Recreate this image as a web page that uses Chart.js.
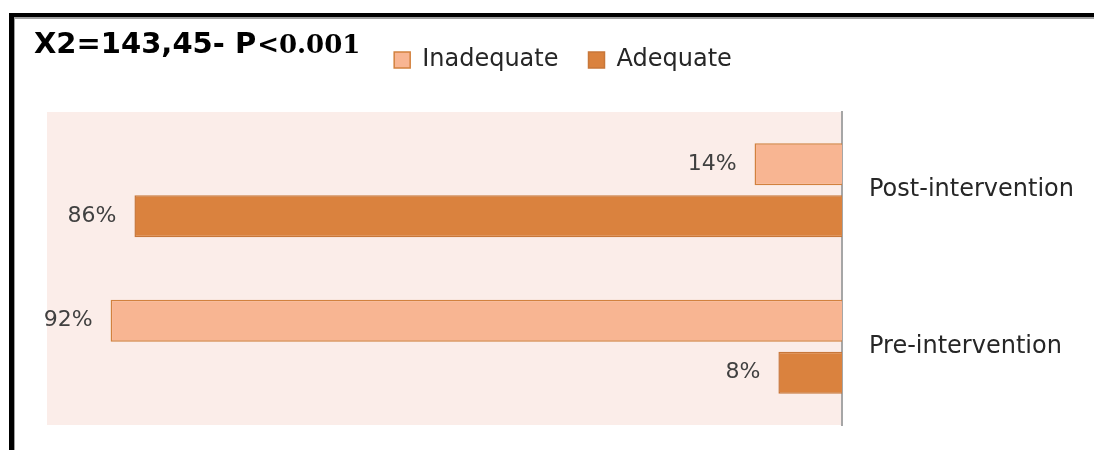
<!DOCTYPE html>
<html>
<head>
<meta charset="utf-8">
<script src="https://cdn.jsdelivr.net/npm/chart.js@4"></script>
<style>
  html, body { margin: 0; padding: 0; background: #fff; }
  #wrap { position: relative; width: 1094px; height: 450px; overflow: hidden; }
  .frame { position: absolute; left: 9px; top: 13px; right: 0; bottom: 0; border-top: 4px solid #000; border-left: 5px solid #000; }
  .frame-in { position: absolute; left: 14px; top: 17px; right: 0; bottom: 0; border-top: 2px solid #a0a0a0; border-left: 1px solid #a0a0a0; }
  canvas { position: absolute; left: 0; top: 0; }
</style>
</head>
<body>
<div id="wrap">
  <div class="frame"></div>
  <div class="frame-in"></div>
  <canvas id="chart" width="1094" height="450"></canvas>
</div>
<script>
const groups = ['Post-intervention', 'Pre-intervention'];
// bar lengths as drawn in the picture (%)
const inadequate = [11, 92];
const adequate = [89, 8];
// labels printed next to the bars
const inadequateText = ['14%', '92%'];
const adequateText = ['86%', '8%'];
const titleMain = 'X2=143,45- P';
const titleTail = '<0.001';

// pink plot area
const plotBg = {
  id: 'plotBg',
  beforeDraw(chart) {
    const { ctx, chartArea: a } = chart;
    ctx.save();
    ctx.fillStyle = '#fbede9';
    ctx.fillRect(a.left, a.top, a.right - a.left, a.bottom - a.top);
    ctx.restore();
  }
};

// value text to the left of each bar
const barText = {
  id: 'barText',
  afterDatasetsDraw(chart) {
    const ctx = chart.ctx;
    ctx.save();
    ctx.font = '22px "DejaVu Sans"';
    ctx.fillStyle = '#404040';
    ctx.textAlign = 'right';
    ctx.textBaseline = 'middle';
    chart.data.datasets.forEach((ds, i) => {
      chart.getDatasetMeta(i).data.forEach((bar, j) => {
        ctx.fillText(ds.valueText[j], bar.x - 18, bar.y);
      });
    });
    ctx.restore();
  }
};

// title with mixed fonts
const titleText = {
  id: 'titleText',
  afterDraw(chart) {
    const ctx = chart.ctx;
    ctx.save();
    ctx.fillStyle = '#000';
    ctx.textBaseline = 'alphabetic';
    ctx.font = 'bold 29px "DejaVu Sans"';
    ctx.fillText(titleMain, 34, 53);
    const w = ctx.measureText(titleMain).width;
    ctx.font = 'bold 26px "DejaVu Serif"';
    ctx.fillText(titleTail, 34 + w + 1, 53);
    ctx.restore();
  }
};

// extra space under the legend
const legendGap = {
  id: 'legendGap',
  afterInit(chart) {
    const fit = chart.legend.fit;
    chart.legend.fit = function () {
      fit.bind(chart.legend)();
      this.height += 30;
    };
  }
};

new Chart(document.getElementById('chart'), {
  type: 'bar',
  data: {
    labels: groups,
    datasets: [
      {
        label: 'Inadequate',
        data: inadequate,
        valueText: inadequateText,
        backgroundColor: '#f8b592',
        borderColor: '#d2813e',
        borderWidth: 1.5,
        categoryPercentage: 0.665,
        barPercentage: 0.81
      },
      {
        label: 'Adequate',
        data: adequate,
        valueText: adequateText,
        backgroundColor: '#da823e',
        borderColor: '#c8773a',
        borderWidth: 1.5,
        categoryPercentage: 0.665,
        barPercentage: 0.81
      }
    ]
  },
  options: {
    indexAxis: 'y',
    responsive: false,
    animation: false,
    layout: { padding: { left: 47, right: 15, top: 18, bottom: 25 } },
    plugins: {
      legend: {
        position: 'top',
        labels: {
          boxWidth: 16,
          boxHeight: 16,
          padding: 30,
          color: '#262626',
          font: { family: '"DejaVu Sans"', size: 24 }
        }
      },
      tooltip: { enabled: false }
    },
    scales: {
      x: {
        display: false,
        reverse: true,
        min: 0,
        max: 100
      },
      y: {
        position: 'right',
        grid: { display: false, drawTicks: true, tickLength: 27 },
        border: { display: true, color: '#a6a6a6', width: 2 },
        ticks: {
          padding: 0,
          crossAlign: 'near',
          color: '#262626',
          font: { family: '"DejaVu Sans"', size: 24 }
        },
        afterFit(scale) { scale.width = 237; }
      }
    }
  },
  plugins: [plotBg, barText, titleText, legendGap]
});
</script>
</body>
</html>
